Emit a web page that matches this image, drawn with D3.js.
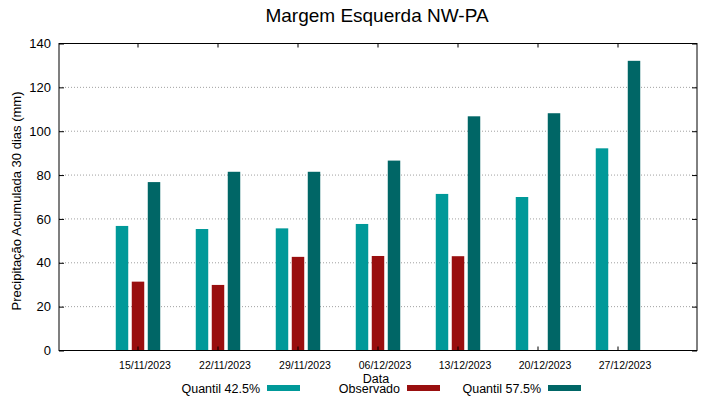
<!DOCTYPE html>
<html>
<head>
<meta charset="utf-8">
<script src="https://cdn.jsdelivr.net/npm/d3@7"></script>
<style>
  body { margin: 0; background: #fff; }
  svg { font-family: "Liberation Sans", Arial, sans-serif; }
  .grid line { stroke: #a0a0a0; stroke-dasharray: 1,2; }
</style>
</head>
<body>
<svg class="plot" width="719" height="399"></svg>
<script>
// chart data
const dates = ['15/11/2023', '22/11/2023', '29/11/2023', '06/12/2023', '13/12/2023', '20/12/2023', '27/12/2023']
const q425 = [56.8, 55.4, 55.7, 57.7, 71.4, 70.0, 92.2]
const observado = [31.4, 29.9, 42.7, 43.1, 43.0, null, null]
const q575 = [76.8, 81.5, 81.5, 86.6, 106.8, 108.2, 132.1]
const yTicks = [0, 20, 40, 60, 80, 100, 120, 140]

const seriesNames = ['Quantil 42.5%', 'Observado', 'Quantil 57.5%']
const seriesColors = ['#009999', '#990f0f', '#006666']
const seriesValues = [q425, observado, q575]

const plot = { left: 59, right: 697, top: 43.5, bottom: 350.5 }
const width = plot.right - plot.left
const height = plot.bottom - plot.top

const svg = d3.select('.plot')

const xScale = d3.scaleBand()
  .domain(dates)
  .range([plot.left, plot.right])
  .paddingInner(0)
  .paddingOuter(0.4875)
const subScale = d3.scaleBand()
  .domain(seriesNames)
  .range([-24, 24])
  .paddingInner(0.22)
  .paddingOuter(0.11)
const yScale = d3.scaleLinear()
  .domain([0, 140])
  .range([plot.bottom, plot.top])

const xc = d => xScale(d) + xScale.bandwidth() / 2

// Grid
// ====
svg.append('g')
    .attr('class', 'grid')
  .selectAll('line')
    .data(yTicks.filter(t => t > 0 && t < 140))
  .enter().append('line')
    .attr('x1', plot.left)
    .attr('x2', plot.right)
    .attr('y1', d => yScale(d))
    .attr('y2', d => yScale(d))

// Bars
// ====
const bars = svg.append('g')
seriesValues.forEach((vals, si) => {
  const name = seriesNames[si]
  bars.append('g')
    .selectAll('rect')
      .data(dates.map((d, i) => ({ d, v: vals[i] })).filter(p => p.v != null))
    .enter().append('rect')
      .attr('x', p => xc(p.d) + subScale(name))
      .attr('width', subScale.bandwidth())
      .attr('y', p => yScale(p.v))
      .attr('height', p => yScale(0) - yScale(p.v))
      .attr('fill', seriesColors[si])
})

// Axes
// ====
const yAxis = d3.axisLeft(yScale).tickValues(yTicks).tickSize(-5).tickPadding(8)
const yAxisR = d3.axisRight(yScale).tickValues(yTicks).tickSize(-5).tickFormat('')
const xAxis = d3.axisBottom(xScale).tickSize(-4).tickPadding(11)
const xAxisT = d3.axisTop(xScale).tickSize(-4).tickFormat('')

const gy = svg.append('g').attr('transform', `translate(${plot.left},0)`).call(yAxis)
gy.selectAll('text').style('font-size', '13px').attr('fill', '#000')
svg.append('g').attr('transform', `translate(${plot.right},0)`).call(yAxisR)
const gx = svg.append('g').attr('transform', `translate(0,${plot.bottom})`).call(xAxis)
gx.selectAll('text').style('font-size', '10.5px').attr('fill', '#000').attr('dx', 7)
svg.append('g').attr('transform', `translate(0,${plot.top})`).call(xAxisT)
svg.selectAll('.domain').remove()

svg.append('rect')
    .attr('x', plot.left)
    .attr('y', plot.top)
    .attr('width', width)
    .attr('height', height)
    .attr('fill', 'none')
    .attr('stroke', '#000')

// Texts
// =====
svg.append('text')
    .attr('x', 377)
    .attr('y', 22)
    .attr('text-anchor', 'middle')
    .style('font-size', '19px')
    .text('Margem Esquerda NW-PA')

svg.append('text')
    .attr('transform', `translate(21,201) rotate(-90)`)
    .attr('text-anchor', 'middle')
    .style('font-size', '13px')
    .text('Precipitação Acumulada 30 dias (mm)')

svg.append('text')
    .attr('x', 376)
    .attr('y', 383)
    .attr('text-anchor', 'middle')
    .style('font-size', '12.5px')
    .text('Data')

// Legend
// ======
const legendX = [260, 400, 541]
const legend = svg.append('g')
  .selectAll('g')
    .data(seriesNames)
  .enter().append('g')
    .attr('transform', (d, i) => `translate(${legendX[i]},388)`)
legend.append('text')
    .attr('text-anchor', 'end')
    .attr('y', 4.5)
    .style('font-size', '12.5px')
    .text(d => d)
legend.append('rect')
    .attr('x', 7)
    .attr('y', -3)
    .attr('width', 33)
    .attr('height', 6)
    .attr('fill', (d, i) => seriesColors[i])
</script>
</body>
</html>
